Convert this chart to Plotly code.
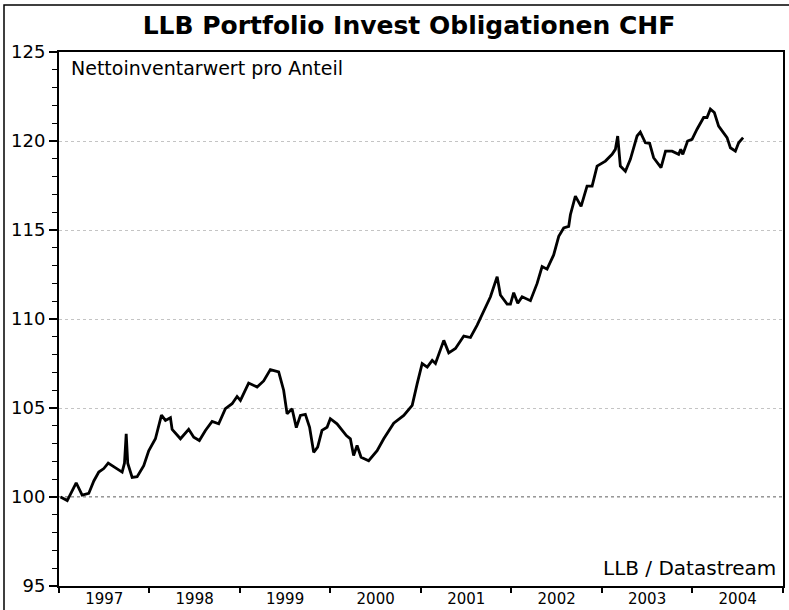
import plotly.graph_objects as go
import pandas as pd

# Time in fractional years
t_years = [
    1997.017, 1997.091, 1997.19, 1997.256, 1997.329, 1997.385, 1997.44, 1997.495,
    1997.544, 1997.606, 1997.698, 1997.724, 1997.743, 1997.76, 1997.809, 1997.864,
    1997.937, 1997.992, 1998.066, 1998.133, 1998.177, 1998.232, 1998.251, 1998.343,
    1998.434, 1998.49, 1998.552, 1998.619, 1998.693, 1998.766, 1998.84, 1998.914,
    1998.969, 1999.006, 1999.097, 1999.19, 1999.263, 1999.337, 1999.429, 1999.484,
    1999.522, 1999.577, 1999.624, 1999.669, 1999.724, 1999.771, 1999.816, 1999.86,
    1999.908, 1999.964, 2000.0, 2000.074, 2000.177, 2000.221, 2000.257, 2000.295,
    2000.339, 2000.423, 2000.516, 2000.589, 2000.699, 2000.81, 2000.903, 2000.958,
    2001.013, 2001.069, 2001.124, 2001.16, 2001.252, 2001.307, 2001.381, 2001.473,
    2001.547, 2001.621, 2001.694, 2001.768, 2001.842, 2001.878, 2001.952, 2001.989,
    2002.025, 2002.07, 2002.118, 2002.21, 2002.284, 2002.339, 2002.394, 2002.467,
    2002.523, 2002.578, 2002.633, 2002.652, 2002.707, 2002.77, 2002.836, 2002.892,
    2002.947, 2002.975, 2003.039, 2003.113, 2003.149, 2003.175, 2003.204, 2003.26,
    2003.315, 2003.389, 2003.425, 2003.481, 2003.528, 2003.572, 2003.654, 2003.704,
    2003.776, 2003.849, 2003.872, 2003.895, 2003.948, 2003.997, 2004.052, 2004.125,
    2004.162, 2004.199, 2004.243, 2004.29, 2004.346, 2004.383, 2004.42, 2004.475,
    2004.511, 2004.56,
]

# Net asset value per unit (CHF)
nav = [
    100.0, 99.8, 100.8, 100.1, 100.2, 100.9, 101.4, 101.6,
    101.9, 101.7, 101.4, 101.9, 103.55, 101.9, 101.1, 101.14,
    101.76, 102.6, 103.27, 104.6, 104.3, 104.45, 103.8, 103.27,
    103.8, 103.36, 103.17, 103.74, 104.24, 104.11, 104.96, 105.24,
    105.65, 105.43, 106.4, 106.18, 106.52, 107.16, 107.03, 106.0,
    104.68, 104.96, 103.9, 104.58, 104.64, 103.92, 102.51, 102.8,
    103.74, 103.92, 104.4, 104.11, 103.45, 103.27, 102.33, 102.89,
    102.23, 102.04, 102.6, 103.27, 104.15, 104.58, 105.15, 106.37,
    107.5, 107.3, 107.68, 107.5, 108.8, 108.1, 108.34, 109.04,
    108.96, 109.66, 110.5, 111.25, 112.38, 111.35, 110.84, 110.84,
    111.48, 110.88, 111.25, 111.03, 112.0, 112.95, 112.8, 113.6,
    114.64, 115.11, 115.2, 115.86, 116.9, 116.33, 117.46, 117.46,
    118.59, 118.68, 118.87, 119.25, 119.53, 120.28, 118.59, 118.3,
    118.97, 120.28, 120.5, 119.9, 119.87, 119.06, 118.5, 119.43,
    119.43, 119.25, 119.53, 119.25, 120.0, 120.09, 120.66, 121.32,
    121.32, 121.79, 121.6, 120.84, 120.47, 120.19, 119.62, 119.43,
    119.9, 120.19,
]

y_ticks = [95, 100, 105, 110, 115, 120, 125]

title_text = "LLB Portfolio Invest Obligationen CHF"
subtitle_text = "Nettoinventarwert pro Anteil"
source_text = "LLB / Datastream"


def to_date(ty):
    year = int(ty)
    start = pd.Timestamp(year=year, month=1, day=1)
    end = pd.Timestamp(year=year + 1, month=1, day=1)
    return start + (end - start) * (ty - year)


dates = [to_date(v) for v in t_years]

FONT = "DejaVu Sans, Verdana, sans-serif"

fig = go.Figure()
fig.add_trace(go.Scatter(
    x=dates, y=nav, mode="lines",
    line=dict(color="black", width=2.8),
    showlegend=False, hoverinfo="skip",
))

fig.add_shape(type="line", xref="paper", yref="y", x0=0, x1=1, y0=100, y1=100,
              line=dict(color="#333333", width=1, dash="dot"), layer="below")

# outer frame of the picture (only top and left edges fall inside the page)
fig.add_shape(type="rect", xref="paper", yref="paper",
              x0=-55 / 724, x1=1.03, y0=1 + 47 / 534, y1=-0.2,
              line=dict(color="black", width=1.5), layer="above")

fig.update_layout(
    width=789, height=610,
    margin=dict(l=59, r=6, t=52, b=24),
    paper_bgcolor="white", plot_bgcolor="white",
    font=dict(family=FONT, color="black"),
    title=dict(text="<b>" + title_text + "</b>", x=409 / 789, xanchor="center",
               y=1 - 25 / 610, yanchor="middle",
               font=dict(size=25, family=FONT, color="black")),
    xaxis=dict(
        type="date", range=["1997-01-01", "2005-01-01"],
        tick0="1997-01-01", dtick="M12", tickformat="%Y", ticklabelmode="period",
        ticks="outside", ticklen=5, tickwidth=1.5, tickcolor="black",
        ticklabelstandoff=-7,
        showline=True, linecolor="black", linewidth=2, mirror=True,
        showgrid=False, zeroline=False, automargin=False,
        tickfont=dict(size=15, family=FONT, color="black"),
    ),
    yaxis=dict(
        range=[95, 125], tickvals=y_ticks,
        ticks="outside", ticklen=8, tickwidth=1.5, tickcolor="black",
        minor=dict(dtick=1, ticks="outside", ticklen=5, tickwidth=1.2, tickcolor="black", showgrid=False),
        showline=True, linecolor="black", linewidth=2, mirror=True,
        showgrid=True, gridcolor="#c4c4c4", griddash="dot", gridwidth=1,
        zeroline=False, automargin=False,
        tickfont=dict(size=18, family=FONT, color="black"),
    ),
    annotations=[
        dict(text=subtitle_text, xref="paper", yref="paper", x=10 / 724, y=1 - 3 / 534,
             xanchor="left", yanchor="top", showarrow=False,
             font=dict(size=19, family=FONT, color="black")),
        dict(text=source_text, xref="paper", yref="paper", x=1 - 5 / 724, y=4 / 534,
             xanchor="right", yanchor="bottom", showarrow=False,
             font=dict(size=20, family=FONT, color="black")),
    ],
)

fig.write_html("out.html", config={"displayModeBar": False},
               post_script="document.body.style.margin='0px';")
